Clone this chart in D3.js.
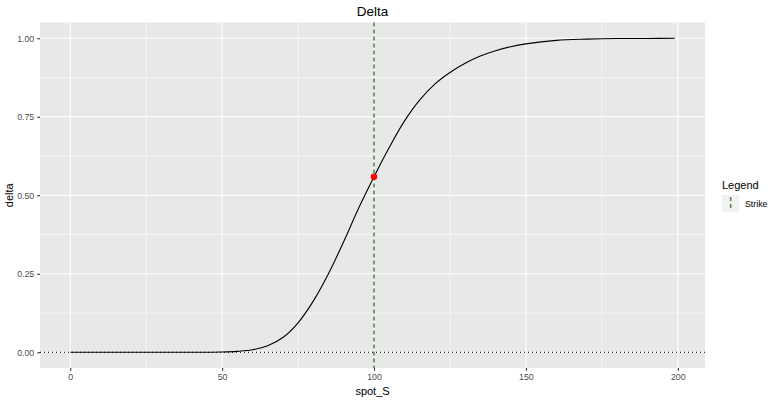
<!DOCTYPE html>
<html>
<head>
<meta charset="utf-8">
<script src="https://cdn.jsdelivr.net/npm/d3@7"></script>
<style>
body{margin:0;background:#fff;}
text{font-family:"Liberation Sans", Arial, sans-serif;}
</style>
</head>
<body>
<svg id="chart" width="779" height="400"></svg>
<script>
// Data
const spotS = [0,10,20,30,40,50,55,60,65,70,75,80,85,90,95,100,105,110,115,120,125,130,135,140,145,150,160,170,180,190,199];
const deltaVals = [0,0,0,0,0,0.001,0.003,0.008,0.021,0.047,0.094,0.163,0.250,0.352,0.460,0.559,0.652,0.736,0.803,0.854,0.891,0.920,0.943,0.960,0.973,0.982,0.993,0.997,0.999,0.999,1.0];
const strike = [100];
const strikeDelta = [0.559];
const xTicks = [0,50,100,150,200];
const xMinor = [25,75,125,175];
const yTicks = [0,0.25,0.5,0.75,1];
const yMinor = [0.125,0.375,0.625,0.875];
const title = "Delta";
const xTitle = "spot_S";
const yTitle = "delta";
const legendTitle = "Legend";
const legendLabels = ["Strike"];

const svg = d3.select("#chart");
const panel = {left:40, right:705, top:22.5, bottom:368};

const xMin = d3.min(spotS), xMax = d3.max(spotS);
const xPad = (xMax - xMin) * 0.05;
const x = d3.scaleLinear().domain([xMin - xPad, xMax + xPad]).range([panel.left, panel.right]);
const y = d3.scaleLinear().domain([-0.05, 1.05]).range([panel.bottom, panel.top]);

// panel background
svg.append("rect").attr("x",panel.left).attr("y",panel.top)
  .attr("width",panel.right-panel.left).attr("height",panel.bottom-panel.top)
  .attr("fill","#e8e8e8");

const grid = svg.append("g");
xMinor.forEach(v=>grid.append("line").attr("x1",x(v)).attr("x2",x(v)).attr("y1",panel.top).attr("y2",panel.bottom).attr("stroke","#fff").attr("stroke-width",0.55));
yMinor.forEach(v=>grid.append("line").attr("y1",y(v)).attr("y2",y(v)).attr("x1",panel.left).attr("x2",panel.right).attr("stroke","#fff").attr("stroke-width",0.55));
xTicks.forEach(v=>grid.append("line").attr("x1",x(v)).attr("x2",x(v)).attr("y1",panel.top).attr("y2",panel.bottom).attr("stroke","#fff").attr("stroke-width",1.1));
yTicks.forEach(v=>grid.append("line").attr("y1",y(v)).attr("y2",y(v)).attr("x1",panel.left).attr("x2",panel.right).attr("stroke","#fff").attr("stroke-width",1.1));

// zero dotted line
svg.append("line").attr("x1",panel.left).attr("x2",panel.right).attr("y1",y(0)).attr("y2",y(0))
  .attr("stroke","#000").attr("stroke-width",1).attr("stroke-dasharray","1,3");

// curve
const line = d3.line().x((d,i)=>x(spotS[i])).y(d=>y(d)).curve(d3.curveCatmullRom.alpha(0.5));
svg.append("path").datum(deltaVals).attr("d",line).attr("fill","none").attr("stroke","#000").attr("stroke-width",1.1);

// strike line
svg.selectAll(".strike").data(strike).enter().append("line")
  .attr("x1",d=>x(d)).attr("x2",d=>x(d)).attr("y1",panel.top).attr("y2",panel.bottom)
  .attr("stroke","#4f8a45").attr("stroke-width",1.6).attr("stroke-dasharray","4,3");

// point
svg.selectAll(".pt").data(strike).enter().append("circle")
  .attr("cx",d=>x(d)).attr("cy",(d,i)=>y(strikeDelta[i])).attr("r",3.2).attr("fill","#ff0000");

// axes
const xAxis = d3.axisBottom(x).tickValues(xTicks).tickSize(2.75).tickPadding(3).tickFormat(d3.format("d"));
const gx = svg.append("g").attr("transform",`translate(0,${panel.bottom})`).call(xAxis);
gx.select(".domain").remove();
gx.selectAll("line").attr("stroke","#333").attr("stroke-width",1.1);
gx.selectAll("text").attr("fill","#4d4d4d").attr("font-size","8.8px").attr("font-family","Liberation Sans, Arial, sans-serif");

const yAxis = d3.axisLeft(y).tickValues(yTicks).tickSize(2.75).tickPadding(3).tickFormat(d3.format(".2f"));
const gy = svg.append("g").attr("transform",`translate(${panel.left},0)`).call(yAxis);
gy.select(".domain").remove();
gy.selectAll("line").attr("stroke","#333").attr("stroke-width",1.1);
gy.selectAll("text").attr("fill","#4d4d4d").attr("font-size","8.8px").attr("font-family","Liberation Sans, Arial, sans-serif");

// titles
svg.append("text").attr("x",(panel.left+panel.right)/2).attr("y",16).attr("text-anchor","middle")
  .attr("font-size","13.5px").attr("fill","#000").text(title);
svg.append("text").attr("x",(panel.left+panel.right)/2).attr("y",395).attr("text-anchor","middle")
  .attr("font-size","11px").attr("fill","#000").text(xTitle);
svg.append("text").attr("transform",`translate(13,${(panel.top+panel.bottom)/2}) rotate(-90)`).attr("text-anchor","middle")
  .attr("font-size","11px").attr("fill","#000").text(yTitle);

// legend
const lg = svg.append("g").attr("transform","translate(722,0)");
lg.append("text").attr("x",0).attr("y",189).attr("font-size","11px").attr("fill","#000").text(legendTitle);
legendLabels.forEach((lab,i)=>{
  const yy = 195 + i*17.3;
  lg.append("rect").attr("x",0).attr("y",yy).attr("width",17.3).attr("height",17.3).attr("fill","#f2f2f2");
  lg.append("line").attr("x1",8.65).attr("x2",8.65).attr("y1",yy+2).attr("y2",yy+15.3)
    .attr("stroke","#4f8a45").attr("stroke-width",1.6).attr("stroke-dasharray","4,3");
  lg.append("text").attr("x",23).attr("y",yy+11.5).attr("font-size","8.8px").attr("fill","#000").text(lab);
});
</script>
</body>
</html>
